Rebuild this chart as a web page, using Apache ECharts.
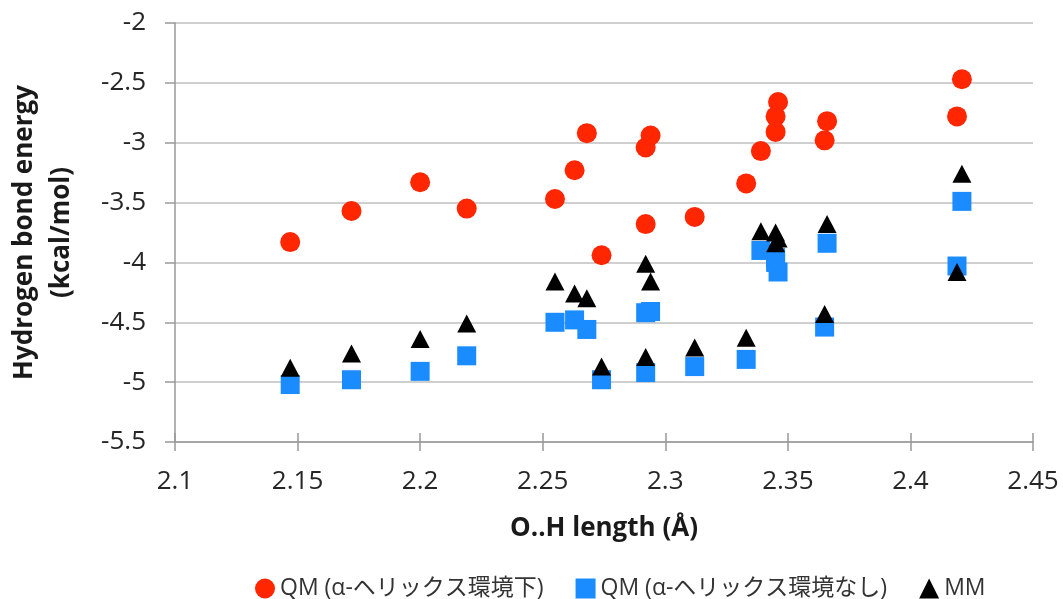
<!DOCTYPE html>
<html>
<head>
<meta charset="utf-8">
<script src="https://cdn.jsdelivr.net/npm/echarts@6/dist/echarts.min.js"></script>
<style>
	html, body { margin: 0; padding: 0; background: #fff; }
	#chart { width: 1063px; height: 599px; }
</style>
</head>
<body>
<div id="chart"></div>
<script>
	// O..H length (Å) of each hydrogen bond
	const ohLength = [2.147, 2.172, 2.200, 2.219, 2.255, 2.263, 2.268, 2.274, 2.292, 2.292, 2.294,
		2.312, 2.333, 2.339, 2.345, 2.345, 2.346, 2.365, 2.366, 2.419, 2.421]
	// QM (α-helix environment)
	const qmHelix = [-3.83, -3.57, -3.33, -3.55, -3.47, -3.23, -2.92, -3.94, -3.68, -3.04, -2.94,
		-3.62, -3.34, -3.07, -2.78, -2.91, -2.66, -2.98, -2.82, -2.78, -2.47]
	// QM (no α-helix environment)
	const qmNoHelix = [-5.02, -4.98, -4.91, -4.78, -4.50, -4.48, -4.56, -4.98, -4.92, -4.42, -4.41,
		-4.87, -4.81, -3.90, -3.96, -4.00, -4.08, -4.54, -3.84, -4.03, -3.49]
	// MM
	const mm = [-4.88, -4.76, -4.64, -4.51, -4.16, -4.26, -4.30, -4.87, -4.79, -4.01, -4.16,
		-4.71, -4.63, -3.74, -3.75, -3.84, -3.80, -4.43, -3.68, -4.08, -3.26]
	const seriesNames = ['QM (α-ヘリックス環境下)', 'QM (α-ヘリックス環境なし)', 'MM']

	const font = "'Open Sans', 'Noto Sans CJK JP', sans-serif"
	const pairs = (ys) => ohLength.map((x, i) => [x, ys[i]])

	const chart = echarts.init(document.getElementById('chart'))
	const option = {
		animation: false,
		textStyle: { fontFamily: font },
		grid: { left: 175, right: 30, top: 23, bottom: 157, outerBoundsMode: 'none' },
		legend: {
			top: 572,
			left: 250,
			itemGap: 32,
			itemWidth: 20,
			itemHeight: 20,
			textStyle: { fontSize: 23, color: '#333', fontFamily: font },
			data: seriesNames
		},
		xAxis: [{
			type: 'value',
			min: 2.1,
			max: 2.45,
			interval: 0.05,
			name: 'O..H length (Å)',
			nameLocation: 'middle',
			nameGap: 74,
			nameTextStyle: { fontSize: 26, fontWeight: 'bold', color: '#1a1a1a' },
			axisLine: { show: true, lineStyle: { color: '#999', width: 1.5 } },
			axisTick: { show: true, length: 9, lineStyle: { color: '#999', width: 1.5 } },
			axisLabel: { fontSize: 26, color: '#262626', margin: 27, formatter: (v) => String(+v.toFixed(2)) },
			splitLine: { show: false }
		}, {
			// inward half of the cross tick marks
			type: 'value',
			position: 'bottom',
			min: 2.1,
			max: 2.45,
			interval: 0.05,
			axisLine: { show: false },
			axisTick: { show: true, inside: true, length: 9, lineStyle: { color: '#999', width: 1.5 } },
			axisLabel: { show: false },
			splitLine: { show: false }
		}],
		yAxis: {
			type: 'value',
			min: -5.5,
			max: -2,
			interval: 0.5,
			name: 'Hydrogen bond energy\n(kcal/mol)',
			nameLocation: 'middle',
			nameGap: 95,
			nameTextStyle: { fontSize: 26, fontWeight: 'bold', color: '#1a1a1a', lineHeight: 37 },
			axisLine: { show: true, lineStyle: { color: '#999', width: 1.5 } },
			axisTick: { show: true, length: 10, lineStyle: { color: '#999', width: 1.5 } },
			axisLabel: { fontSize: 26, color: '#262626', margin: 29 },
			splitLine: { show: true, lineStyle: { color: '#bfbfbf', width: 1.5 } }
		},
		series: [{
			name: seriesNames[0],
			type: 'scatter',
			symbol: 'circle',
			symbolSize: 20,
			itemStyle: { color: '#ff2600', opacity: 1 },
			data: pairs(qmHelix)
		}, {
			name: seriesNames[1],
			type: 'scatter',
			symbol: 'rect',
			symbolSize: 19,
			itemStyle: { color: '#1a8cff', opacity: 1 },
			data: pairs(qmNoHelix)
		}, {
			name: seriesNames[2],
			type: 'scatter',
			symbol: 'triangle',
			symbolSize: [19, 18],
			itemStyle: { color: '#000', opacity: 1 },
			data: pairs(mm)
		}]
	}
	chart.setOption(option)
</script>
</body>
</html>
